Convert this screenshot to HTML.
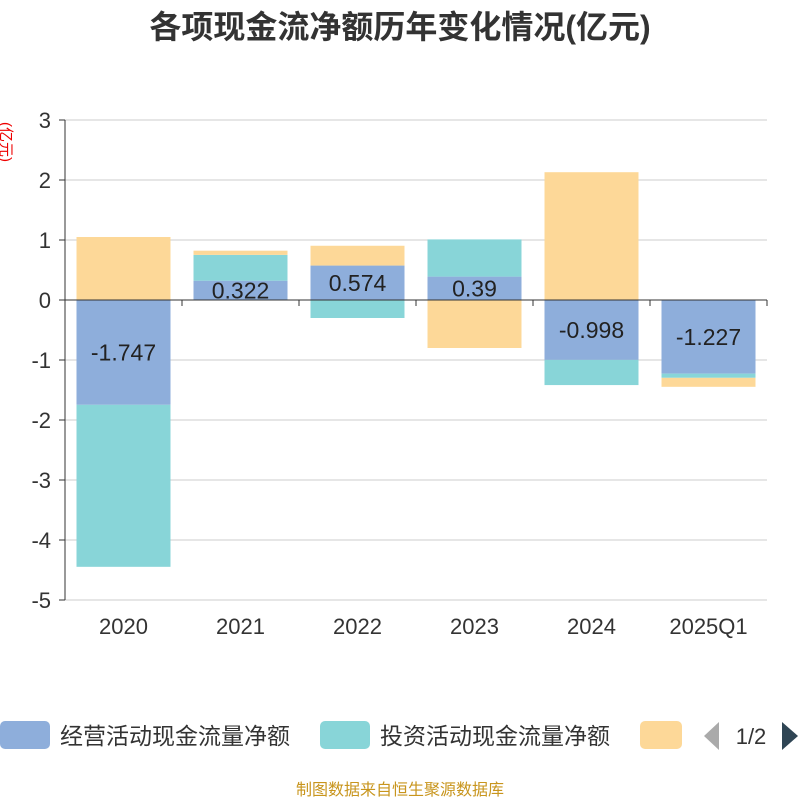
<!DOCTYPE html>
<html><head><meta charset="utf-8"><style>
body{margin:0;background:#fff;font-family:"Liberation Sans","Noto Sans CJK SC",sans-serif;}
</style></head><body>
<svg width="800" height="800" xmlns="http://www.w3.org/2000/svg" font-family="Liberation Sans, Noto Sans CJK SC, sans-serif">
<text x="400" y="38" text-anchor="middle" font-size="32" font-weight="bold" fill="#333">各项现金流净额历年变化情况(亿元)</text>
<text transform="translate(1,142) rotate(90)" text-anchor="middle" font-size="15" fill="#e00">(亿元)</text>
<g id="grid"></g><g id="bars"></g><g id="labels"></g><g id="axes"></g>
<g>
<rect x="0" y="721" width="50" height="28" rx="5" fill="#8eaedb"/>
<text x="60" y="744" font-size="23" fill="#333">经营活动现金流量净额</text>
<rect x="320" y="721" width="50" height="28" rx="5" fill="#88d5d8"/>
<text x="380" y="744" font-size="23" fill="#333">投资活动现金流量净额</text>
<rect x="640" y="721" width="42" height="28" rx="5" fill="#fdd898"/>
<polygon points="719,722 719,750 704,736" fill="#aaa"/>
<text x="751" y="744" text-anchor="middle" font-size="22" fill="#333">1/2</text>
<polygon points="782,722 782,750 798,736" fill="#2f4554"/>
</g>
<text x="400" y="795" text-anchor="middle" font-size="16" fill="#c8951d">制图数据来自恒生聚源数据库</text>
</svg>
<script>
const categories=["2020","2021","2022","2023","2024","2025Q1"];
const operating=[-1.747,0.322,0.574,0.39,-0.998,-1.227];
const investing=[-2.7,0.43,-0.3,0.62,-0.42,-0.07];
const financing=[1.05,0.07,0.33,-0.8,2.13,-0.15];
const yTicks=[3,2,1,0,-1,-2,-3,-4,-5];
const NS="http://www.w3.org/2000/svg";
const x0=65,x1=767,bw=(x1-x0)/categories.length;
const y=v=>300-v*60;
function mk(t,a,p){const e=document.createElementNS(NS,t);for(const k in a)e.setAttribute(k,a[k]);document.getElementById(p).appendChild(e);return e;}
yTicks.forEach(t=>{
 if(t!==0){const l=mk('line',{x1:x0,x2:x1,y1:y(t),y2:y(t),stroke:'#ccc','stroke-width':1},'grid');
 
 }
 const tk=mk('line',{x1:x0-6,x2:x0,y1:y(t),y2:y(t),stroke:'#333'},'axes');
 
 
 const tx=mk('text',{x:x0-14,y:y(t)+8,'text-anchor':'end','font-size':22,fill:'#333'},'axes');tx.textContent=t;
 
 
});
let a=mk('line',{x1:x0,x2:x0,y1:y(3),y2:y(-5),stroke:'#333'},'axes');


a=mk('line',{x1:x0,x2:x1,y1:y(0),y2:y(0),stroke:'#333'},'axes');


for(let i=0;i<=categories.length;i++){const t=mk('line',{x1:x0+i*bw,x2:x0+i*bw,y1:y(0),y2:y(0)+6,stroke:'#333'},'axes');
 
 }
const series=[[operating,'#8eaedb','operating'],[investing,'#88d5d8','investing'],[financing,'#fdd898','financing']];
categories.forEach((c,i)=>{
 let pos=0,neg=0;const bx=x0+i*bw+(bw-94)/2;
 series.forEach(([arr,col,nm])=>{
  const v=arr[i];let a0,a1;
  if(v>=0){a0=pos;a1=pos+v;pos=a1;}else{a0=neg;a1=neg+v;neg=a1;}
  const r=mk('rect',{x:bx,y:Math.min(y(a0),y(a1)),width:94,height:Math.abs(y(a1)-y(a0)),fill:col},'bars');
  
  
 });
 const v=operating[i];
 const lt=mk('text',{x:bx+47,y:y(v/2)+8,'text-anchor':'middle','font-size':23,fill:'#222'},'labels');lt.textContent=v;
 
 
 const xt=mk('text',{x:x0+i*bw+bw/2,y:634,'text-anchor':'middle','font-size':22,fill:'#333'},'axes');xt.textContent=c;
 
 
});
</script>
</body></html>
